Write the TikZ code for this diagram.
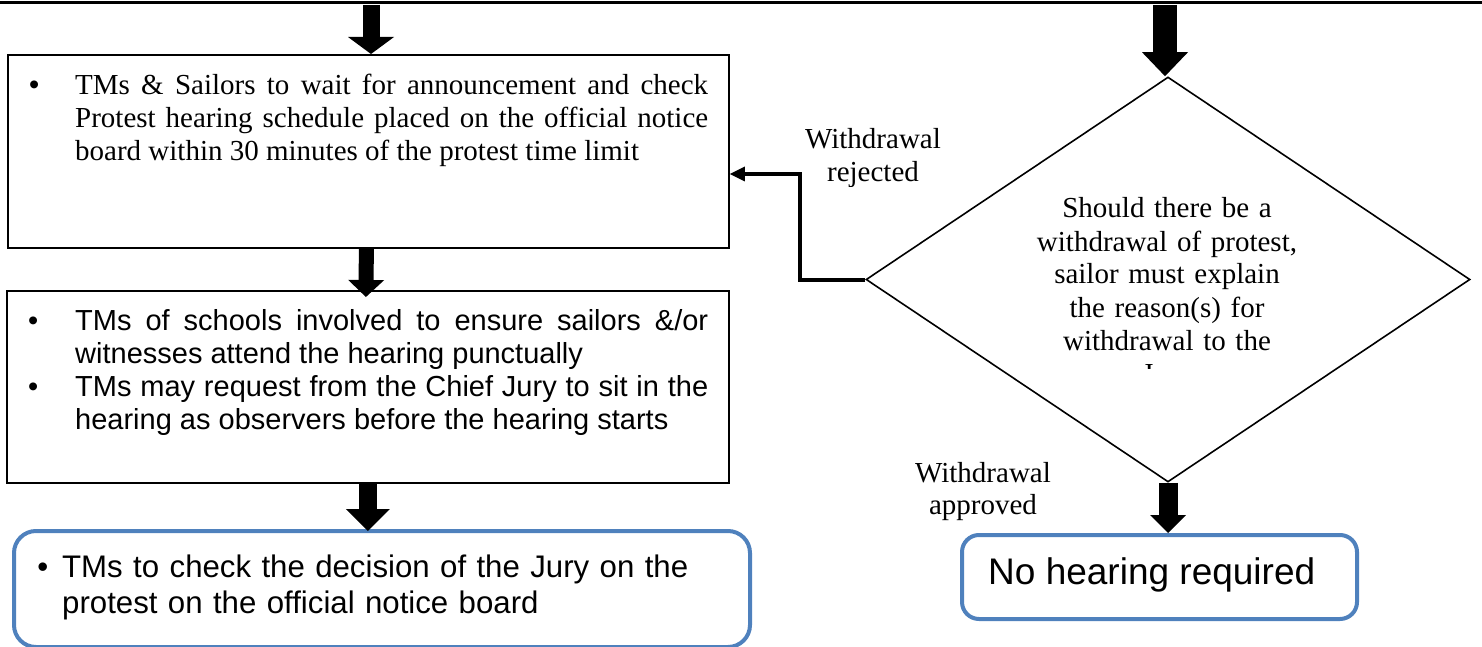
\documentclass[tikz,border=0pt]{standalone}
\usepackage{fontspec}
\setmainfont{Liberation Serif}
\newfontfamily\arialf{Liberation Sans}
\usetikzlibrary{arrows.meta,shapes.geometric}
\definecolor{sablue}{RGB}{79,129,189}
\newcommand{\bul}[1]{\noindent\llap{\textbullet\hspace{#1}}}
\newcommand{\bigbul}[1]{\noindent\llap{{\arialf\textbullet}\hspace{#1}}}
\begin{document}
\begin{tikzpicture}[x=1pt,y=-1pt,
  box/.style={draw, line width=1.8pt, inner sep=0pt, anchor=north west},
  rbox/.style={draw=sablue, line width=4pt, rounded corners=22pt, inner sep=0pt, anchor=north west},
  txt/.style={inner sep=0pt, anchor=base west},
  serif/.style={font=\fontsize{29}{33}\selectfont},
  sans/.style={font=\arialf\fontsize{29}{33}\selectfont},
  lbl/.style={inner sep=0pt, anchor=base, text width=220pt, align=center, font=\fontsize{29}{32.5}\selectfont},
  barrow/.style n args={3}{line width=#1, -{Triangle[width=#2,length=#3,line width=0pt]}},
  elbow/.style={line width=4pt, -{Triangle[width=15pt,length=15pt,line width=0pt]}}
]
\useasboundingbox (0,0) rectangle (1482,647);

% top border of the previous box
\draw[line width=2.5pt] (0,2.5) -- (1482,2.5);
\coordinate (tA1) at (371,5);
\coordinate (tA2) at (1165,5);

% left column boxes
\node[box, minimum width=721pt, minimum height=193pt] (b1) at (7,54) {};
\node[txt, serif, text width=633pt, align=justify] (t1) at (75,95)
  {\bigbul{36pt}TMs \& Sailors to wait for announcement and check\linebreak Protest hearing schedule placed on the official notice\linebreak board within 30 minutes of the protest time limit};

\node[box, minimum width=722pt, minimum height=192pt] (b2) at (6,290) {};
\node[txt, sans, text width=633pt, align=justify] (t2) at (75,330)
  {\bul{37pt}TMs of schools involved to ensure sailors \&/or\linebreak witnesses attend the hearing punctually\par
   \bul{37pt}TMs may request from the Chief Jury to sit in the\linebreak hearing as observers before the hearing starts};

\node[rbox, minimum width=736pt, minimum height=116pt] (b4) at (12,529) {};
\node[txt, text width=680pt, align=left, font=\arialf\fontsize{31.2}{36}\selectfont] (t4) at (62,577)
  {\bul{14pt}TMs to check the decision of the Jury on the\\protest on the official notice board};

% right column
\node[diamond, draw, line width=1.6pt, minimum width=604pt, minimum height=405pt, inner sep=0pt] (dec) at (1168,279.5) {};
\begin{scope}
  \clip (900,0) rectangle (1440,368);
  \node[lbl, font=\fontsize{29}{33}\selectfont, text width=320pt] (dt) at (1167,218)
    {Should there be a\\withdrawal of protest,\\sailor must explain\\the reason(s) for\\withdrawal to the\\Jury};
\end{scope}

\node[rbox, rounded corners=17pt, minimum width=395pt, minimum height=84pt] (b5) at (960,533) {};
\node[txt, font=\arialf\fontsize{37}{40}\selectfont] (t5) at (988,584) {No hearing required};

% labels
\begin{scope}
  \clip (760,100) rectangle (990,187);
  \node[lbl] (lrej) at (873,149) {Withdrawal\\rejected};
\end{scope}
\node[lbl] (lapp) at (983,482) {Withdrawal\\approved};

% connectors
\draw[barrow={17pt}{46pt}{17pt}] (tA1) -- (tA1 |- b1.north);
\draw[barrow={15pt}{36pt}{17pt}] ([xshift=-2pt]b1.south) -- ([xshift=-2pt,yshift=-7pt]b2.north);
\draw[barrow={18pt}{44pt}{22pt}] (b2.south) -- ([yshift=-2pt]b2.south |- b4.north);
\draw[barrow={24pt}{46pt}{24pt}] (tA2) -- (tA2 |- dec.north);
\draw[barrow={19pt}{36pt}{18pt}] (dec.south) -- (dec.south |- b5.north);
\coordinate (elb) at (800,174);
\draw[elbow] (dec.west) -| (elb) -- (elb -| b1.east);
\end{tikzpicture}
\end{document}
